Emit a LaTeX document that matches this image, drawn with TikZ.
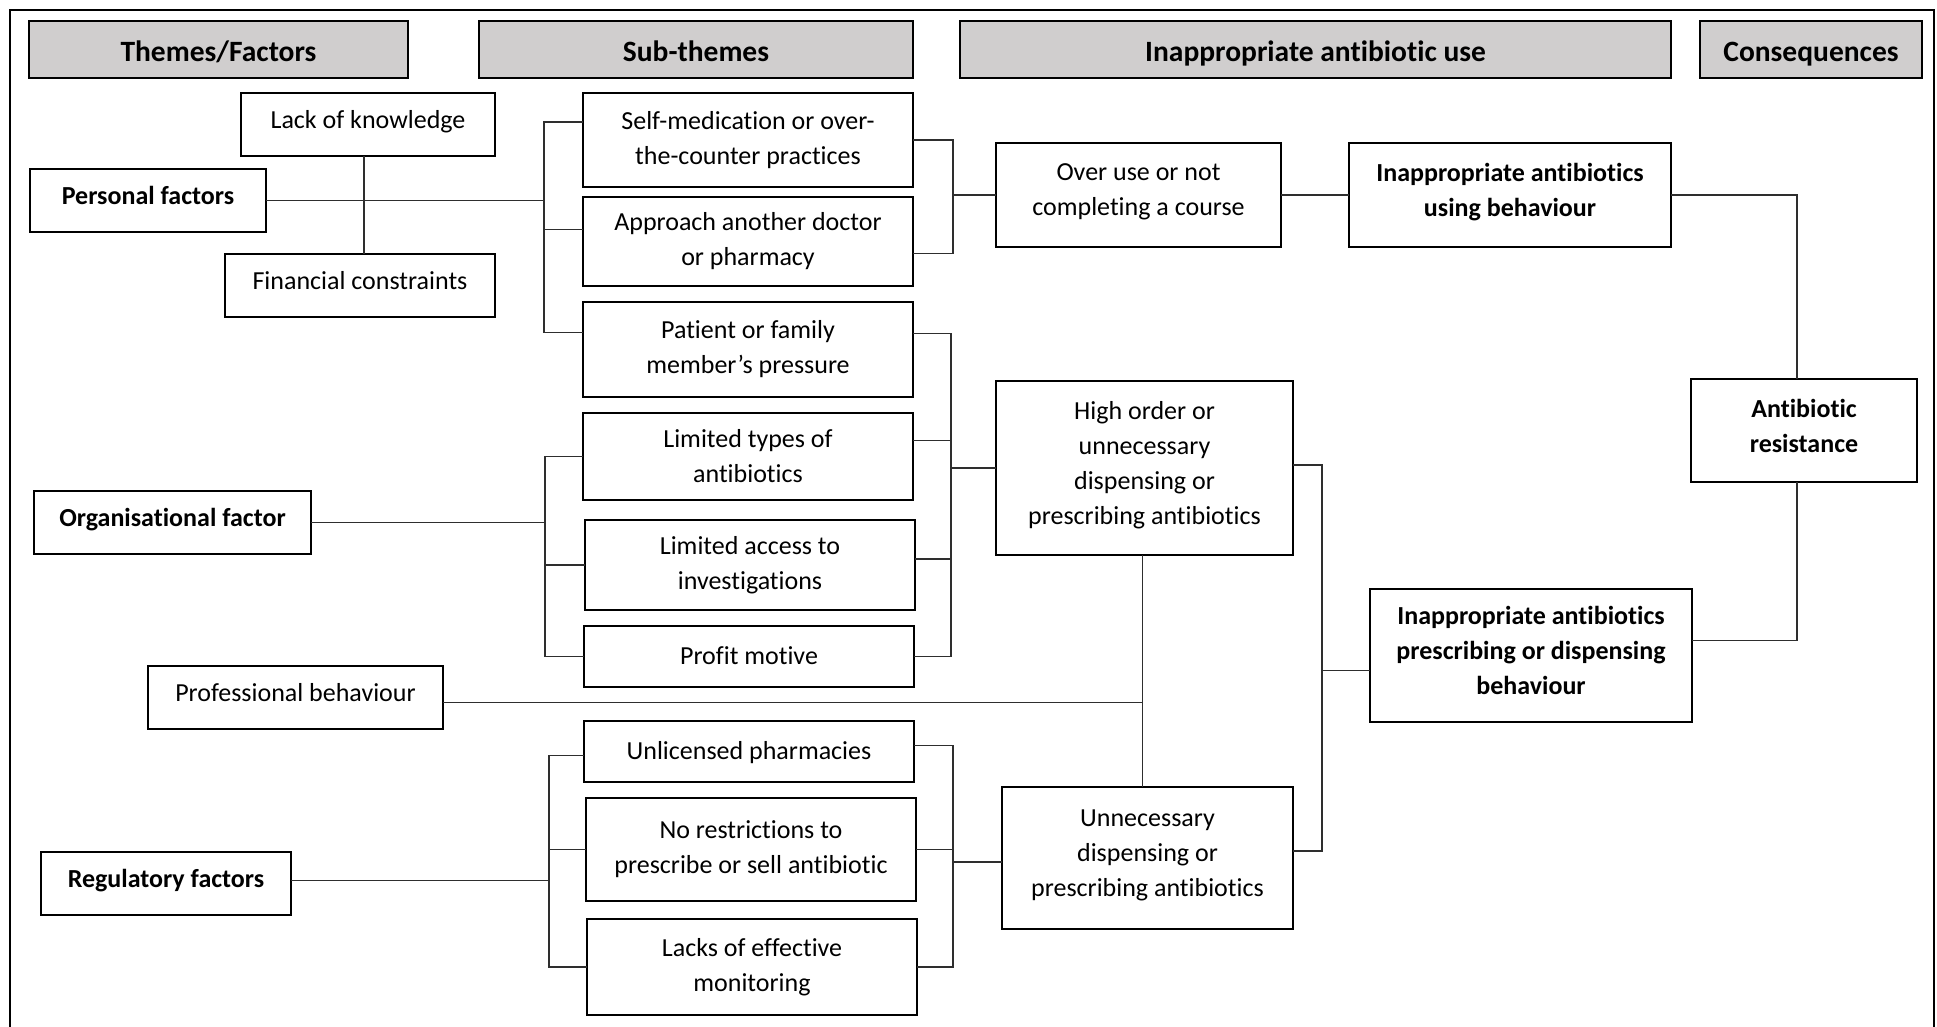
\documentclass[tikz,border=0pt]{standalone}
\usepackage{fontspec}
\setmainfont{Carlito}[Ligatures=NoCommon]
\usetikzlibrary{positioning}
\definecolor{HeadGrey}{HTML}{D0CECE}
\definecolor{LinkGrey}{HTML}{2E2E2E}

\begin{document}
\begin{tikzpicture}[x=1pt,y=-1pt,node distance=16pt]
  \tikzset{
    box/.style={draw=black,line width=2.6pt,outer sep=0pt,fill=white,align=center,inner sep=2pt,text depth=10pt,font=\fontsize{26}{35}\selectfont},
    boldbox/.style={box,font=\fontsize{26}{35}\selectfont\bfseries},
    oneline/.style={text height=18pt,minimum height=63pt},
    sub/.style={box,minimum width=330pt,text depth=},
    subone/.style={text height=22pt,text depth=6pt},
    head/.style={draw=black,line width=2.6pt,outer sep=0pt,fill=HeadGrey,minimum height=57pt,text height=26pt,text depth=2pt,font=\fontsize{29.5}{34}\selectfont\bfseries},
    link/.style={draw=LinkGrey,line width=1.3pt}
  }
  \useasboundingbox (0,0) rectangle (1937,1027);
  \draw[line width=2pt] (10,1027) -- (10,10) -- (1934,10) -- (1934,1027);

  % column heads
  \node[head,minimum width=379pt,anchor=north west] (hthm) at (29,21) {Themes/Factors};
  \node[head,minimum width=434pt,right=71pt of hthm] (hsub) {Sub-themes};
  \node[head,minimum width=711pt,right=47pt of hsub] (huse) {Inappropriate antibiotic use};
  \node[head,minimum width=222pt,right=29pt of huse] (hcon) {Consequences};

  % themes
  \node[box,oneline,minimum width=254pt] (lack) at (368,124.5) {Lack of knowledge};
  \node[boldbox,oneline,minimum width=236pt] (pers) at (148,200.5) {Personal factors};
  \node[box,oneline,minimum width=270pt] (fin) at (360,285.5) {Financial constraints};
  \node[boldbox,oneline,minimum width=277pt] (org) at (172.5,522.5) {Organisational factor};
  \node[box,oneline,minimum width=295pt] (prof) at (295.5,697.5) {Professional behaviour};
  \node[boldbox,oneline,minimum width=250pt] (reg) at (166,883.5) {Regulatory factors};

  % sub-themes
  \node[sub,minimum height=94pt,anchor=north west] (self) at (583,93) {Self-medication or over-\\the-counter practices};
  \node[sub,minimum height=89pt,below=10pt of self] (appr) {Approach another doctor\\or pharmacy};
  \node[sub,minimum height=95pt,below=of appr] (pat) {Patient or family\\member’s pressure};
  \node[sub,minimum height=87pt,below=of pat] (ltyp) {Limited types of\\antibiotics};
  \node[sub,minimum height=90pt,below=20pt of ltyp,xshift=2pt] (lacc) {Limited access to\\investigations};
  \node[sub,subone,minimum height=61pt,below=of lacc,xshift=-1pt] (prft) {Profit motive};
  \node[sub,subone,minimum height=61pt,below=34pt of prft] (unlic) {Unlicensed pharmacies};
  \node[sub,minimum height=103pt,below=of unlic,xshift=2pt] (norst) {No restrictions to\\prescribe or sell antibiotic};
  \node[sub,minimum height=96pt,below=18pt of norst,xshift=1pt] (lacks) {Lacks of effective\\monitoring};

  % use and consequences
  \node[box,minimum width=285pt,minimum height=104pt] (over) at (1138.5,195) {Over use or not\\completing a course};
  \node[boldbox,minimum width=322pt,minimum height=104pt,right=68pt of over] (iaub) {Inappropriate antibiotics\\using behaviour};
  \node[box,minimum width=297pt,minimum height=174pt] (high) at (1144.5,468) {High order or\\unnecessary\\dispensing or\\prescribing antibiotics};
  \node[box,minimum width=291pt,minimum height=142pt] (unn) at (1147.5,858) {Unnecessary\\dispensing or\\prescribing antibiotics};
  \node[boldbox,minimum width=322pt,minimum height=133pt] (iapd) at (1531,655.5) {Inappropriate antibiotics\\prescribing or dispensing\\behaviour};
  \node[boldbox,minimum width=226pt,minimum height=103pt] (res) at (1804,430.5) {Antibiotic\\resistance};

  % bracket columns and stub points
  \coordinate (ba) at (544,0);
  \coordinate (bb) at (953,0);
  \coordinate (bc) at (951,0);
  \coordinate (bd) at (545,0);
  \coordinate (be) at (549,0);
  \coordinate (bg) at (1322,0);
  \coordinate (lackS) at ([xshift=-4pt]lack.south);
  \coordinate (finN) at ([xshift=4pt]fin.north);
  \coordinate (selfL) at ([yshift=18pt]self.west);
  \coordinate (apprL) at ([yshift=12pt]appr.west);
  \coordinate (patL) at ([yshift=17pt]pat.west);
  \coordinate (apprR) at ([yshift=-12pt]appr.east);
  \coordinate (patR) at ([yshift=16pt]pat.east);
  \coordinate (ltypR) at ([yshift=16pt]ltyp.east);
  \coordinate (laccR) at ([yshift=6pt]lacc.east);
  \coordinate (profR) at ([yshift=-5pt]prof.east);
  \coordinate (unlicR) at ([yshift=6pt]unlic.east);
  \coordinate (unlicL) at ([yshift=-4pt]unlic.west);
  \coordinate (regR) at ([yshift=3pt]reg.east);
  \coordinate (highS) at ([xshift=-2pt]high.south);
  \coordinate (highR) at ([yshift=3pt]high.east);
  \coordinate (unnR) at ([yshift=7pt]unn.east);
  \coordinate (unnL) at ([yshift=-4pt]unn.west);
  \coordinate (iapdL) at ([yshift=-15pt]iapd.west);
  \coordinate (iapdR) at ([yshift=15pt]iapd.east);
  \coordinate (resN) at ([xshift=-7pt]res.north);
  \coordinate (resS) at ([xshift=-7pt]res.south);

  % personal factors
  \draw[link] (lackS) -- (finN |- lackS) -- (finN);
  \draw[link] (pers.east) -- (pers.east -| ba);
  \draw[link] (selfL) -| (patL -| ba) -- (patL);
  \draw[link] (apprL) -- (apprL -| ba);
  \draw[link] (self.east) -| (apprR -| bb) -- (apprR);
  \draw[link] (over.west) -- (over.west -| bb);
  \draw[link] (over) -- (iaub);
  \draw[link] (iaub.east) -| (resN);

  % organisational factor
  \draw[link] (org.east) -- (org.east -| bd);
  \draw[link] (ltyp.west) -| (prft.west -| bd) -- (prft.west);
  \draw[link] (lacc.west) -- (lacc.west -| bd);
  \draw[link] (patR) -| (prft.east -| bc) -- (prft.east);
  \draw[link] (ltypR) -- (ltypR -| bc);
  \draw[link] (laccR) -- (laccR -| bc);
  \draw[link] (high.west) -- (high.west -| bc);

  % professional behaviour
  \draw[link] (highS) -- (highS |- unn.north);
  \draw[link] (profR) -- (profR -| highS);

  % regulatory factors
  \draw[link] (regR) -- (regR -| be);
  \draw[link] (unlicL) -| (lacks.west -| be) -- (lacks.west);
  \draw[link] (norst.west) -- (norst.west -| be);
  \draw[link] (unlicR) -| (lacks.east -| bb) -- (lacks.east);
  \draw[link] (norst.east) -- (norst.east -| bb);
  \draw[link] (unnL) -- (unnL -| bb);

  % prescribing behaviour
  \draw[link] (highR) -| (unnR -| bg) -- (unnR);
  \draw[link] (iapdL) -- (iapdL -| bg);
  \draw[link] (resS) |- (iapdR);
\end{tikzpicture}
\end{document}
